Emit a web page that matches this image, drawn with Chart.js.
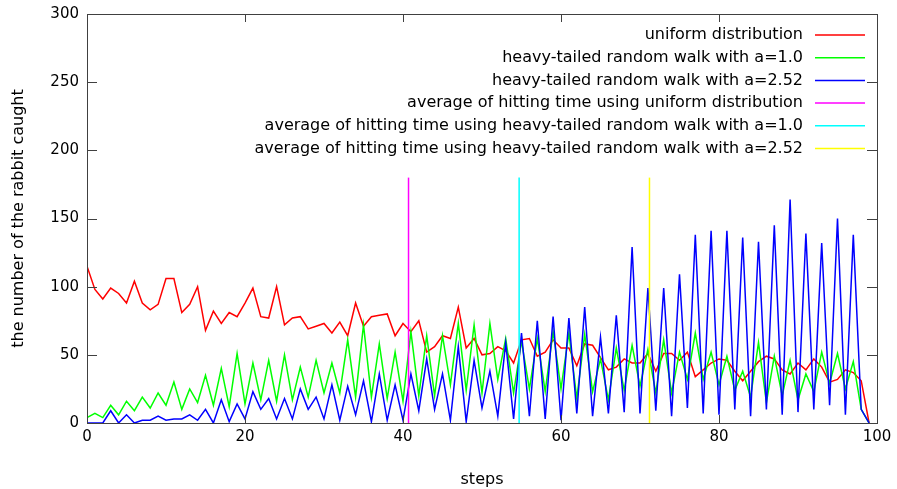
<!DOCTYPE html>
<html>
<head>
<meta charset="utf-8">
<script src="https://cdn.jsdelivr.net/npm/chart.js@4.4.1/dist/chart.umd.min.js"></script>
<style>
  html, body { margin: 0; padding: 0; background: #fff; }
</style>
</head>
<body>
<canvas id="chart" width="897" height="489"></canvas>
<script>
// steps 0..99
const steps = [
  0, 1, 2, 3, 4, 5, 6, 7, 8, 9, 10, 11, 12, 13, 14, 15, 16, 17, 18, 19,
  20, 21, 22, 23, 24, 25, 26, 27, 28, 29, 30, 31, 32, 33, 34, 35, 36, 37, 38, 39,
  40, 41, 42, 43, 44, 45, 46, 47, 48, 49, 50, 51, 52, 53, 54, 55, 56, 57, 58, 59,
  60, 61, 62, 63, 64, 65, 66, 67, 68, 69, 70, 71, 72, 73, 74, 75, 76, 77, 78, 79,
  80, 81, 82, 83, 84, 85, 86, 87, 88, 89, 90, 91, 92, 93, 94, 95, 96, 97, 98, 99
];

const uniform = [
  115, 98, 91, 99, 95, 88, 104, 88, 83, 87, 106, 106, 81, 87, 100, 68, 82, 73, 81, 78,
  88, 99, 78, 77, 100, 72, 77, 78, 69, 71, 73, 66, 74, 64, 88, 71, 78, 79, 80, 64,
  73, 67, 75, 52, 56, 64, 62, 85, 55, 62, 50, 51, 56, 53, 44, 61, 62, 49, 52, 61,
  55, 55, 42, 58, 57, 48, 39, 41, 47, 44, 44, 51, 38, 51, 51, 46, 52, 34, 39, 44,
  47, 46, 38, 31, 38, 45, 49, 47, 39, 36, 44, 39, 47, 41, 30, 32, 39, 37, 31, 0
];

const heavyA10 = [
  4, 7, 4, 13, 6, 16, 9, 19, 11, 22, 13, 30, 10, 25, 15, 35, 13, 40, 12, 51,
  14, 44, 17, 46, 16, 50, 17, 41, 19, 46, 22, 44, 22, 61, 19, 72, 19, 58, 18, 52,
  16, 67, 20, 64, 20, 64, 28, 73, 24, 72, 22, 73, 32, 62, 22, 60, 25, 62, 23, 67,
  25, 66, 18, 65, 23, 47, 17, 55, 24, 57, 27, 54, 22, 61, 22, 52, 32, 66, 32, 52,
  28, 49, 24, 38, 19, 59, 15, 49, 20, 46, 17, 36, 23, 52, 29, 51, 25, 45, 10, 0
];

const heavyA252 = [
  0, 0, 0, 9, 0, 6, 0, 2, 2, 5, 2, 3, 3, 6, 2, 10, 0, 17, 1, 14,
  3, 23, 10, 18, 3, 18, 3, 25, 10, 19, 3, 28, 2, 27, 6, 31, 1, 36, 2, 28,
  2, 36, 9, 47, 10, 36, 2, 56, 1, 46, 11, 38, 5, 59, 3, 66, 5, 75, 3, 78,
  2, 77, 7, 85, 5, 63, 7, 79, 8, 129, 7, 99, 9, 99, 5, 109, 11, 138, 7, 141,
  6, 141, 10, 136, 5, 133, 10, 145, 6, 164, 8, 139, 10, 132, 13, 150, 6, 138, 10, 0
];

// average hitting times (vertical markers) and their height
const hittingAverages = [40.7, 54.7, 71.2];
const markerTop = 180;

const xTicks = [0, 20, 40, 60, 80, 100];
const yTicks = [0, 50, 100, 150, 200, 250, 300];

const labels = [
  'uniform distribution',
  'heavy-tailed random walk with a=1.0',
  'heavy-tailed random walk with a=2.52',
  'average of hitting time using uniform distribution',
  'average of hitting time using heavy-tailed random walk with a=1.0',
  'average of hitting time using heavy-tailed random walk with a=2.52'
];
const colors = ['#ff0000', '#00ff00', '#0000ff', '#ff00ff', '#00ffff', '#ffff00'];

const FONT = 'DejaVu Sans';
const FONT_SIZE = 16;
const TICK_SIZE = 15;

function series(values) {
  return steps.map((s, i) => ({ x: s, y: values[i] }));
}

function marker(x) {
  return [{ x: x, y: 0 }, { x: x, y: markerTop }];
}

const seriesData = [series(uniform), series(heavyA10), series(heavyA252)]
  .concat(hittingAverages.map(marker));

const datasets = seriesData.map((d, i) => ({
  label: labels[i],
  data: d,
  borderColor: colors[i],
  backgroundColor: colors[i],
  borderWidth: 1.5,
  pointRadius: 0,
  tension: 0,
  fill: false,
  order: i < 3 ? 4 - i : 0
}));

// gnuplot-like frame with inward ticks on all four sides
const framePlugin = {
  id: 'frame',
  afterDraw(chart) {
    const { ctx, chartArea: a, scales } = chart;
    ctx.save();
    ctx.strokeStyle = '#404040';
    ctx.lineWidth = 1;
    ctx.strokeRect(a.left + 0.5, a.top + 0.5, a.right - a.left, a.bottom - a.top);
    ctx.beginPath();
    xTicks.forEach(v => {
      const px = Math.round(scales.x.getPixelForValue(v)) + 0.5;
      ctx.moveTo(px, a.bottom);
      ctx.lineTo(px, a.bottom - 8);
      ctx.moveTo(px, a.top);
      ctx.lineTo(px, a.top + 8);
    });
    yTicks.forEach(v => {
      const py = Math.round(scales.y.getPixelForValue(v)) + 0.5;
      ctx.moveTo(a.left, py);
      ctx.lineTo(a.left + 10, py);
      ctx.moveTo(a.right, py);
      ctx.lineTo(a.right - 10, py);
    });
    ctx.stroke();
    ctx.restore();
  }
};

// key in the top right corner: text right aligned, line sample after it
const keyPlugin = {
  id: 'key',
  afterDraw(chart) {
    const ctx = chart.ctx;
    ctx.save();
    ctx.font = FONT_SIZE + 'px "' + FONT + '"';
    ctx.textAlign = 'right';
    ctx.textBaseline = 'middle';
    chart.data.datasets.forEach((ds, i) => {
      const y = 35 + i * 22.7;
      ctx.fillStyle = '#000';
      ctx.fillText(ds.label, 803, y);
      ctx.strokeStyle = ds.borderColor;
      ctx.lineWidth = 1.5;
      ctx.beginPath();
      ctx.moveTo(815, y);
      ctx.lineTo(865, y);
      ctx.stroke();
    });
    ctx.restore();
  }
};

new Chart(document.getElementById('chart'), {
  type: 'line',
  data: { datasets: datasets },
  options: {
    responsive: false,
    animation: false,
    layout: { padding: { left: 0, right: 20, top: 14, bottom: 0 } },
    plugins: {
      legend: { display: false },
      tooltip: { enabled: false }
    },
    scales: {
      x: {
        type: 'linear',
        min: 0,
        max: 100,
        afterFit: s => { s.height = 66; },
        afterBuildTicks: s => { s.ticks = xTicks.map(v => ({ value: v })); },
        grid: { display: false, drawTicks: false },
        border: { display: false },
        ticks: { color: '#000', padding: 5, font: { family: FONT, size: TICK_SIZE } },
        title: {
          display: true,
          text: 'steps',
          color: '#000',
          padding: { top: 0, bottom: 0 },
          font: { family: FONT, size: FONT_SIZE }
        }
      },
      y: {
        type: 'linear',
        min: 0,
        max: 300,
        afterFit: s => { s.width = 87; s.paddingTop = 0; s.paddingBottom = 0; },
        afterBuildTicks: s => { s.ticks = yTicks.map(v => ({ value: v })); },
        grid: { display: false, drawTicks: false },
        border: { display: false },
        ticks: { color: '#000', padding: 8, font: { family: FONT, size: TICK_SIZE } },
        title: {
          display: true,
          text: 'the number of the rabbit caught',
          color: '#000',
          padding: { top: 9, bottom: 0 },
          font: { family: FONT, size: FONT_SIZE }
        }
      }
    }
  },
  plugins: [framePlugin, keyPlugin]
});
</script>
</body>
</html>
